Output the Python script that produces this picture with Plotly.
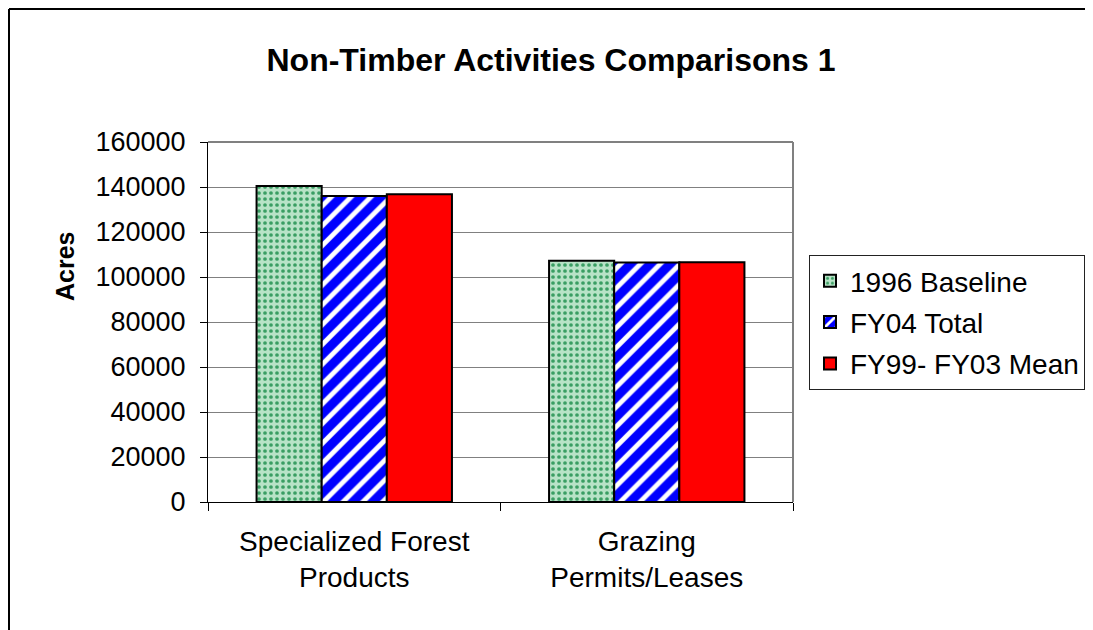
import plotly.graph_objects as go

categories = ["Specialized Forest<br>Products", "Grazing<br>Permits/Leases"]
series_names = ["1996 Baseline", "FY04 Total", "FY99- FY03 Mean"]
baseline_1996 = [140500, 107200]
fy04_total = [136000, 106400]
fy99_fy03_mean = [136800, 106600]
y_ticks = [0, 20000, 40000, 60000, 80000, 100000, 120000, 140000, 160000]

FONT = "Liberation Sans, Arial, sans-serif"

W, H = 1093, 630
OFF = 8  # page body margin
L, R, T, B = 208 - OFF, 793 - OFF, 142 - OFF, 502 - OFF  # plot area in figure pixels

fig = go.Figure()
fig.add_trace(go.Bar(
    name=series_names[0], x=categories, y=baseline_1996, legendgroup="a",
    marker=dict(color="#a3d9b5", line=dict(color="black", width=2),
                pattern=dict(shape=".", fgcolor="#3a9e63", bgcolor="#b8e3c7",
                             size=6, solidity=0.3, fillmode="replace")),
))
fig.add_trace(go.Bar(
    name=series_names[1], x=categories, y=fy04_total, legendgroup="b",
    marker=dict(color="#0000ff", line=dict(color="black", width=2),
                pattern=dict(shape="/", fgcolor="white", bgcolor="#0000ff",
                             size=14, solidity=0.35, fillmode="replace")),
))
fig.add_trace(go.Bar(
    name=series_names[2], x=categories, y=fy99_fy03_mean, legendgroup="c",
    marker=dict(color="#ff0000", line=dict(color="black", width=2)),
))

pw, ph = R - L, B - T
def px(xp):
    return (xp - OFF - L) / pw
def py(yp):
    return (B - (yp - OFF)) / ph

fig.update_layout(
    width=W, height=H,
    margin=dict(l=L, r=W - R, t=T, b=H - B, pad=0),
    paper_bgcolor="white", plot_bgcolor="white",
    font=dict(family=FONT, size=27, color="black"),
    barmode="group", bargap=0.332, bargroupgap=0,
    title=dict(text="<b>Non-Timber Activities Comparisons 1</b>",
               font=dict(family=FONT, size=32, color="black"),
               x=(551 - OFF) / W, xanchor="center", y=1 - (60 - OFF) / H, yanchor="middle"),
    showlegend=True,
    legend=dict(x=px(809), xanchor="left", y=py(255), yanchor="top",
                bordercolor="#222222", borderwidth=1, bgcolor="white",
                font=dict(family=FONT, size=28, color="black"),
                traceorder="grouped", tracegroupgap=2, itemsizing="constant"),
    xaxis=dict(showgrid=False, showline=True, linecolor="black", linewidth=1,
               ticks="outside", tickson="boundaries", ticklen=8, tickcolor="black",
               tickfont=dict(family=FONT, size=28, color="black"),
               ticklabelstandoff=14, zeroline=False),
    yaxis=dict(range=[0, 160000], tickvals=y_ticks, tickformat="d",
               showgrid=True, gridcolor="#808080", gridwidth=1,
               showline=True, linecolor="black", linewidth=1,
               ticks="outside", ticklen=7, tickcolor="black",
               tickfont=dict(family=FONT, size=27, color="black"),
               ticklabelstandoff=9, zeroline=False),
    annotations=[dict(text="<b>Acres</b>", xref="paper", yref="paper",
                      x=px(65), y=py(266), xanchor="center", yanchor="middle",
                      textangle=-90, showarrow=False,
                      font=dict(family=FONT, size=25, color="black"))],
)

# plot area top/right border (gray)
fig.add_shape(type="line", xref="paper", yref="paper", x0=0, x1=1, y0=1, y1=1,
              line=dict(color="#808080", width=2))
fig.add_shape(type="line", xref="paper", yref="paper", x0=1, x1=1, y0=0, y1=1,
              line=dict(color="#808080", width=2))
# outer chart border: only left and top edges are visible in the window
fig.add_shape(type="line", xref="paper", yref="paper",
              x0=px(9), x1=px(1200), y0=py(9), y1=py(9),
              line=dict(color="black", width=2), layer="below")
fig.add_shape(type="line", xref="paper", yref="paper",
              x0=px(9), x1=px(9), y0=py(9), y1=py(700),
              line=dict(color="black", width=2), layer="below")

fig.write_html("out.html")
